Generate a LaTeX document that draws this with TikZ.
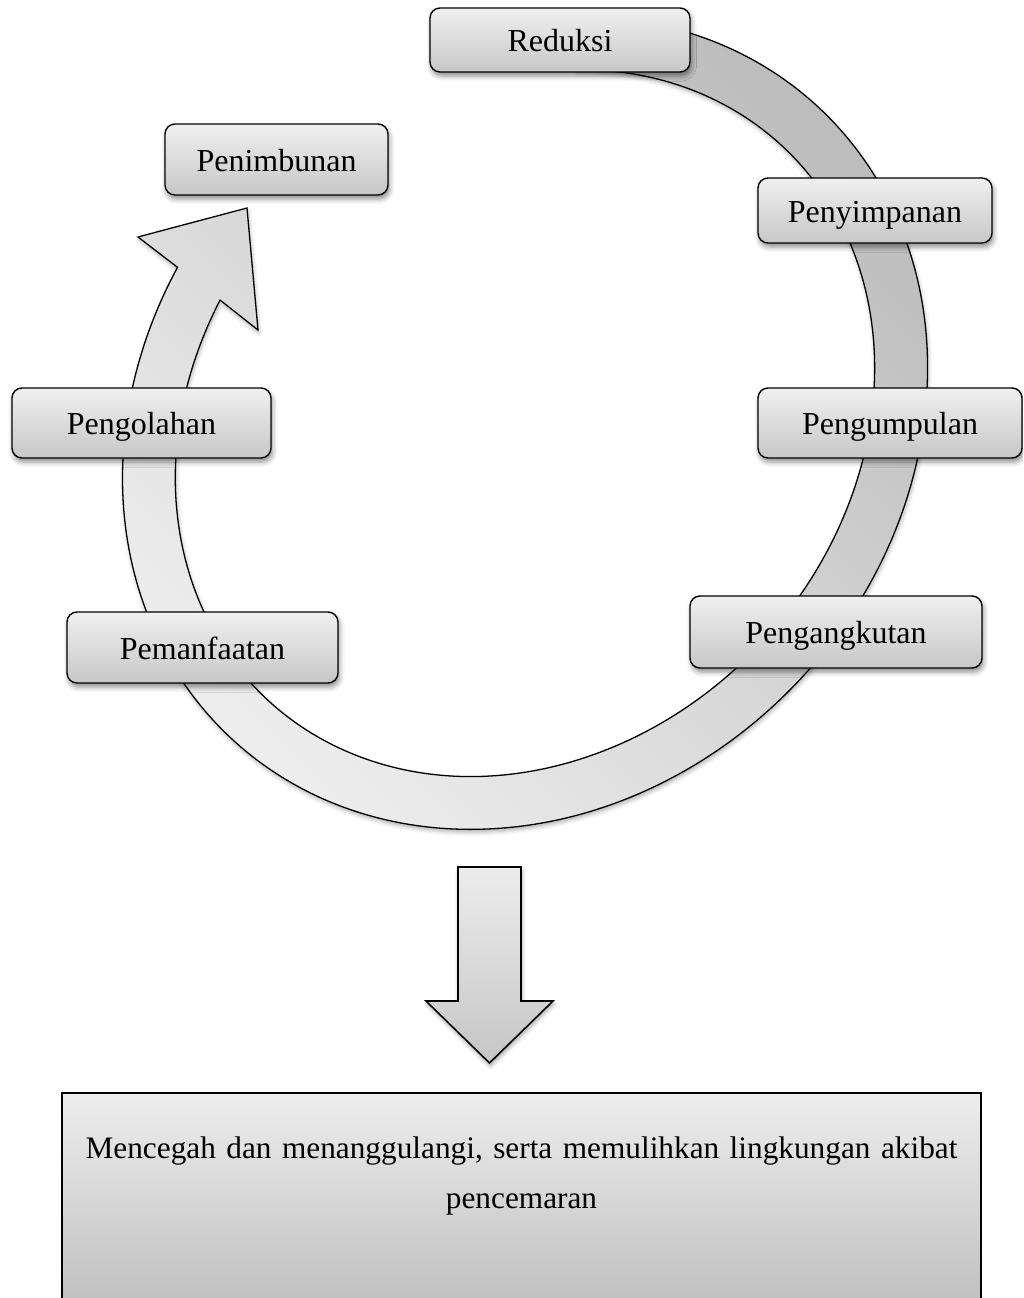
\documentclass[tikz,border=0pt]{standalone}
\usepackage{fontspec}
\setmainfont{Liberation Serif}
\usetikzlibrary{shadows.blur}

\definecolor{boxtop}{gray}{0.94}
\definecolor{boxbot}{gray}{0.78}
\definecolor{ringdark}{gray}{0.74}
\definecolor{ringlight}{gray}{0.93}

\begin{document}
\begin{tikzpicture}[x=1pt,y=1pt,
  stagebox/.style={draw=black, line width=1.4pt, rounded corners=10pt,
    top color=boxtop, bottom color=boxbot, inner sep=0pt,
    font=\fontsize{32}{38}\selectfont, text height=23.4pt, text depth=0pt,
    blur shadow={shadow xshift=1.5pt, shadow yshift=-4pt,
      shadow blur radius=5pt, shadow opacity=45}},
  ringband/.style={draw=black, line width=1.3pt,
    top color=ringdark, bottom color=ringlight, shading angle=-45,
    blur shadow={shadow xshift=1pt, shadow yshift=-3pt,
      shadow blur radius=4pt, shadow opacity=30}},
  blockarrow/.style={draw=black, line width=1.6pt,
    top color=gray!15, bottom color=gray!45,
    blur shadow={shadow xshift=1pt, shadow yshift=-3pt,
      shadow blur radius=4pt, shadow opacity=35}},
  resultbox/.style={draw=black, line width=1.8pt,
    top color=gray!14, bottom color=gray!50},
]
\useasboundingbox (0,0) rectangle (1023,-1298);
\clip (0,0) rectangle (1023,-1298);

% arrowhead of the cycle
\coordinate (hb1) at (138,-237);
\coordinate (htip) at (247,-208);
\coordinate (hb2) at (258,-330);

% the elliptical cycle band, tail hidden under the first stage
\begin{scope}[shift={(525,-423)}, rotate=47]
  \path[ringband] (39:378 and 323) -- (39:431 and 376)
    arc[start angle=39, end angle=-253.4, x radius=431, y radius=376]
    -- (hb1) -- (htip) -- (hb2) -- (108.2:378 and 323)
    arc[start angle=108.2, end angle=399, x radius=378, y radius=323]
    -- cycle;
\end{scope}

% stages
\node[stagebox, minimum width=260, minimum height=64] (reduksi) at (560,-40) {Reduksi};
\node[stagebox, minimum width=234, minimum height=65] (penyimpanan) at (875,-210.5) {Penyimpanan};
\node[stagebox, minimum width=264, minimum height=70] (pengumpulan) at (890,-423) {Pengumpulan};
\node[stagebox, minimum width=292, minimum height=72] (pengangkutan) at (836,-632) {Pengangkutan};
\node[stagebox, minimum width=271, minimum height=71] (pemanfaatan) at (202.5,-647.5) {Pemanfaatan};
\node[stagebox, minimum width=259, minimum height=70] (pengolahan) at (141.5,-423) {Pengolahan};
\node[stagebox, minimum width=223, minimum height=71] (penimbunan) at (276.5,-159.5) {Penimbunan};

% outcome
\path[blockarrow] (458,-867) -- (521,-867) -- (521,-1001) -- (553,-1001)
  -- (489.5,-1063) -- (426,-1001) -- (458,-1001) -- cycle;
\path[resultbox] (62,-1093) rectangle (981,-1305);
\node[font=\fontsize{31.3}{50}\selectfont, text width=900, align=center,
  anchor=base, inner sep=0pt] (result) at (521.5,-1158)
  {Mencegah dan menanggulangi, serta memulihkan lingkungan akibat\\pencemaran};
\end{tikzpicture}
\end{document}
